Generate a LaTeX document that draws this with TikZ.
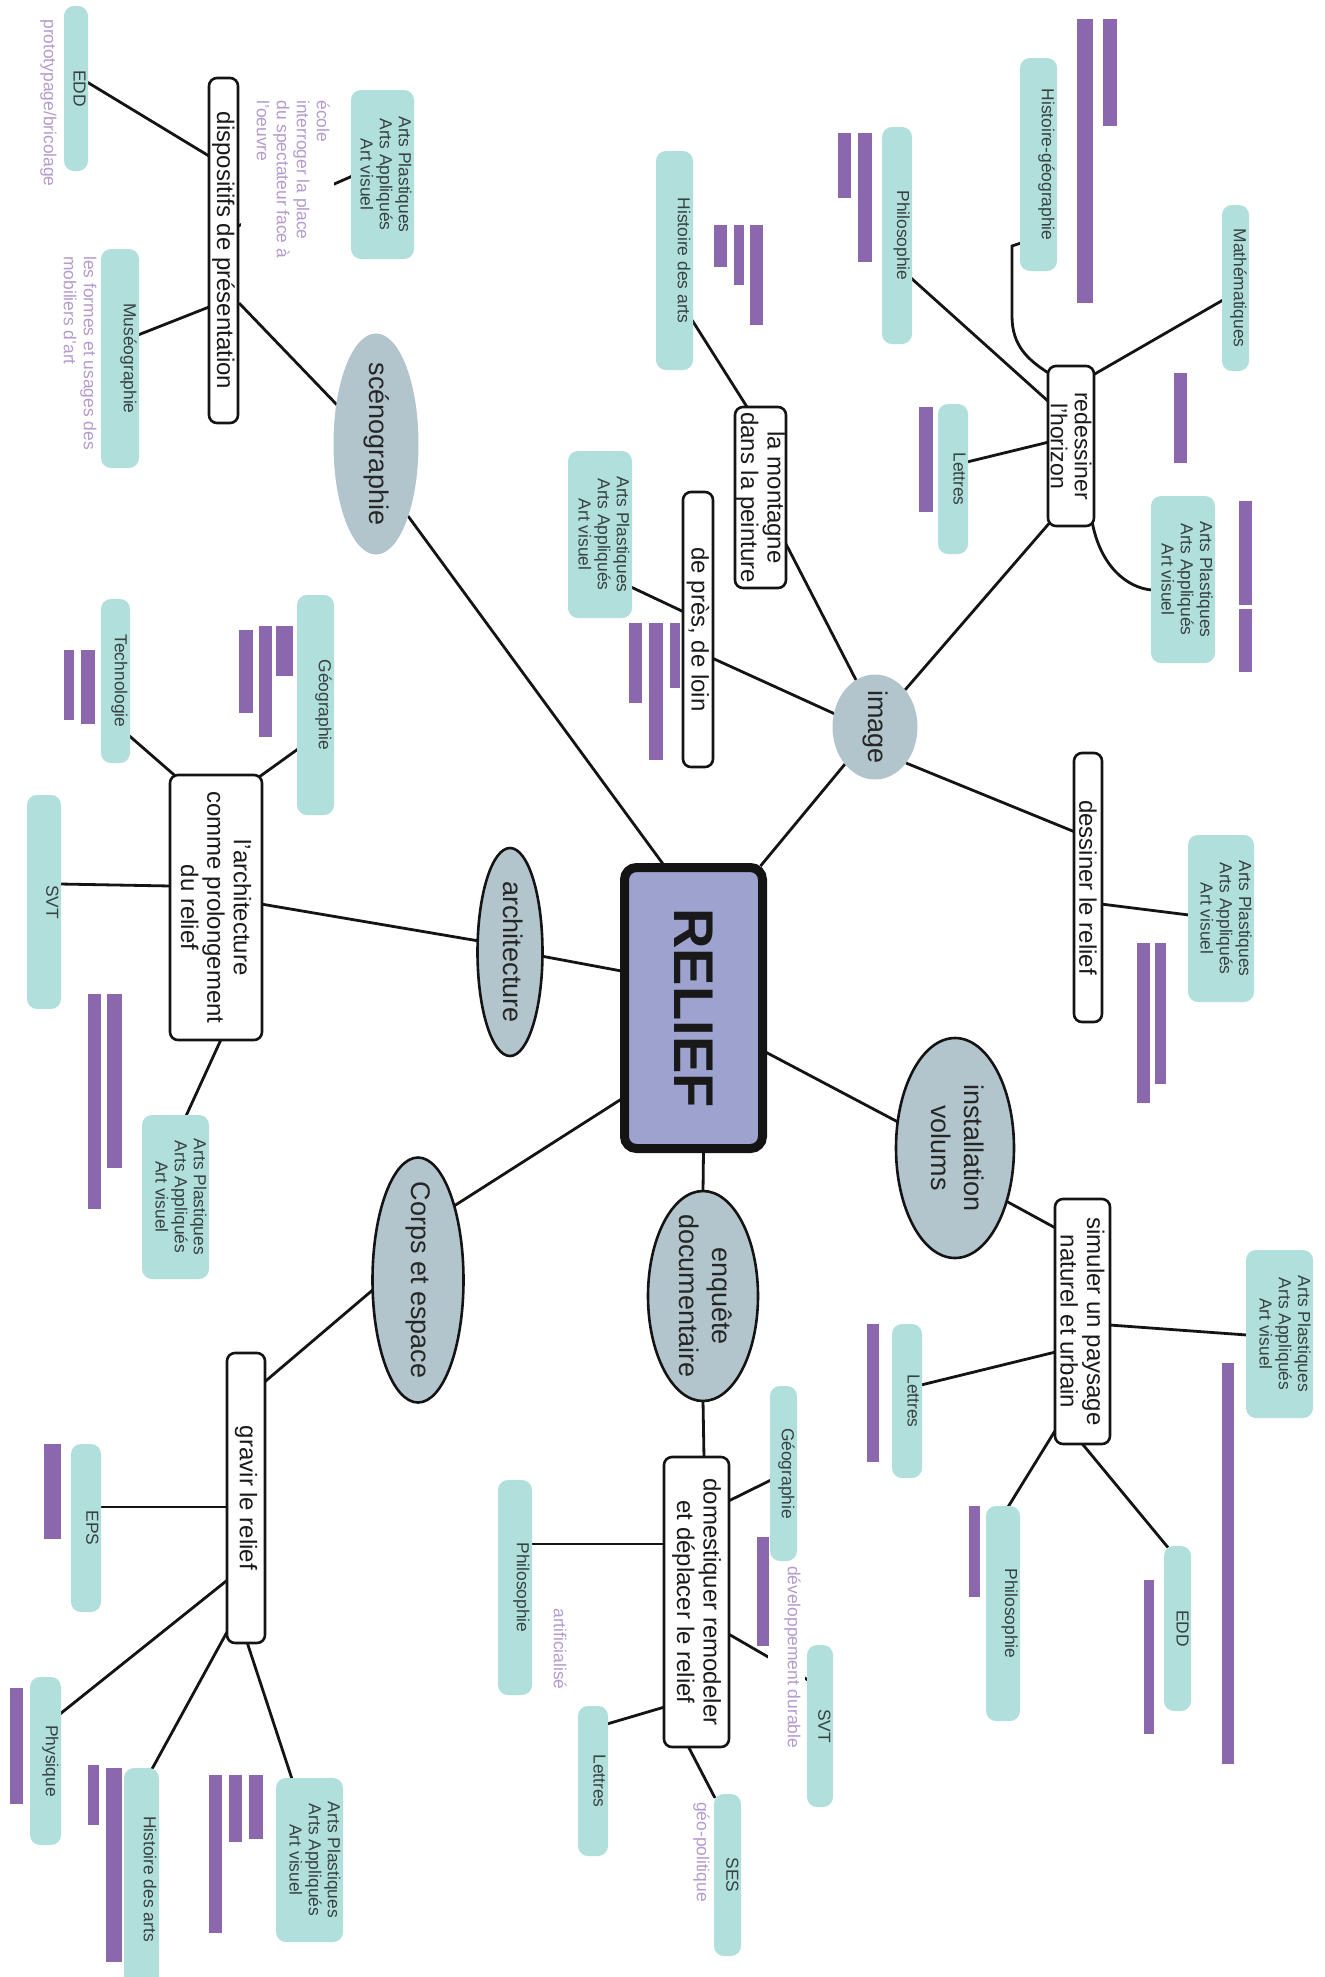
\documentclass[tikz,border=0pt]{standalone}
\usepackage{fontspec}
\setmainfont{Liberation Sans}
\usepackage{graphicx}
\usetikzlibrary{shapes.geometric,calc}
\pgfdeclarelayer{bg}
\pgfsetlayers{bg,main}
\definecolor{teal1}{RGB}{176,223,220}
\definecolor{ellf}{RGB}{179,197,204}
\definecolor{relf}{RGB}{158,162,207}
\definecolor{pdark}{RGB}{139,104,173}
\definecolor{plight}{RGB}{180,155,205}
\definecolor{ttxt}{RGB}{55,65,65}
\definecolor{lnc}{RGB}{20,20,20}
\tikzset{
 conn/.style={draw=lnc, line width=1.4pt},
 tealbox/.style={rectangle, fill=teal1, draw=none, rounded corners=5pt, inner sep=0pt, outer sep=0pt},
 ttext/.style={rotate=-90, inner sep=0pt, text=ttxt, align=center, font=\fontsize{8.7}{9.6}\selectfont},
 ltext/.style={rotate=-90, inner sep=2pt, fill=white, text=plight, align=left, font=\fontsize{8.7}{10}\selectfont},
 wbox/.style={rectangle, rotate=-90, draw=lnc, line width=1.3pt, fill=white, rounded corners=4pt, inner sep=0.5pt, align=center, text=black!90, font=\fontsize{12}{13.2}\selectfont},
 ell/.style={ellipse, rotate=-90, fill=ellf, inner sep=0pt, text=black!85, font=\fontsize{13.5}{16.5}\selectfont},
 ellb/.style={ell, draw=lnc, line width=1.3pt},
 central/.style={rectangle, rotate=-90, fill=relf, draw=lnc, line width=4.5pt, rounded corners=6pt, text=black!90, font=\fontsize{28}{30}\selectfont\bfseries},
}
\newcommand{\tealrect}[5]{\node[tealbox, minimum width={(#4-#2)*0.5pt}, minimum height={(#5-#3)*0.5pt}] (#1) at ({(#2+#4)/2},{(#3+#5)/2}) {};}
\newcommand{\tealtext}[3]{\node[ttext, anchor=north] (#1) at ($(#2.east)+(-2,0)$) {#3};}
\newcommand{\purplebar}[4]{\fill[pdark] (#1,#2) rectangle (#3,#4);}
\newcommand{\conn}[6]{\draw[conn] ($(#1)+(#2,#3)$) -- ($(#4)+(#5,#6)$);}
\newcommand{\elltxt}[1]{\makebox[0pt]{\begin{tabular}{@{}c@{}}#1\end{tabular}}}
\newcommand{\APtext}{Arts Plastiques\\Arts Appliqués\\Art visuel}
\begin{document}
\begin{tikzpicture}[x=0.5pt,y=-0.5pt]
\useasboundingbox (0,0) rectangle (1325,1977);
\begin{pgfonlayer}{bg}
\fill[white] (0,0) rectangle (1325,1977);
\end{pgfonlayer}

% central
\node[central, minimum width=140.5pt, minimum height=69pt] (relief) at (693.5,1008) {RELIEF};

% ellipses
\node[ell, minimum width=110.5pt, minimum height=42.5pt] (sceno) at (376,444) {\elltxt{scénographie}};
\node[ell, minimum width=52.5pt, minimum height=42.5pt] (image) at (875,727) {\elltxt{image}};
\node[ellb, minimum width=104pt, minimum height=32.5pt] (archi) at (510,952) {\elltxt{architecture}};
\node[ellb, minimum width=122.5pt, minimum height=45.5pt] (corps) at (418,1280) {\elltxt{Corps et espace}};
\node[ellb, minimum width=105pt, minimum height=55pt] (enquete) at (703,1296) {\elltxt{enquête\\documentaire}};
\node[ellb, minimum width=110pt, minimum height=59pt] (install) at (955,1148) {\elltxt{installation\\volums}};

% white boxes
\node[wbox, minimum width=172.5pt, minimum height=14.5pt] (disp) at (223.5,250.5) {dispositifs de présentation};
\node[wbox, minimum width=137.5pt, minimum height=15pt] (preslo) at (698,629.5) {de près, de loin};
\node[wbox, minimum width=90.5pt, minimum height=25.5pt] (montagne) at (760.5,497.5) {la montagne\\dans la peinture};
\node[wbox, minimum width=80pt, minimum height=23pt, font=\fontsize{11.5}{12}\selectfont] (horizon) at (1071,446) {redessiner\\l'horizon};
\node[wbox, minimum width=134.5pt, minimum height=14pt] (dessiner) at (1088,887.5) {dessiner le relief};
\node[wbox, minimum width=122.5pt, minimum height=27.5pt] (simuler) at (1082.5,1321.5) {simuler un paysage\\naturel et urbain};
\node[wbox, minimum width=145pt, minimum height=32.5pt] (domest) at (696.5,1602) {domestiquer remodeler\\et déplacer le relief};
\node[wbox, minimum width=132.5pt, minimum height=46pt] (archbox) at (216,907.5) {l'architecture\\comme prolongement\\du relief};
\node[wbox, minimum width=145pt, minimum height=19pt] (gravir) at (246,1498) {gravir le relief};

% light purple texts
\node[ltext, anchor=north] (proto) at (61,103) {prototypage/bricolage};
\node[ltext, anchor=north west, text depth=5.7pt] (ecole) at (334,96) {école\\interroger la place\\du spectateur face à\\l'oeuvre};
\node[ltext, anchor=north west] (formes) at (101,252) {les formes et usages des\\mobiliers d'art};
\node[ltext, anchor=north, text depth=8pt] (devdur) at (805,1657) {développement durable};
\node[ltext, anchor=north] (artif) at (571,1649) {artificialisé};
\node[ltext, anchor=north] (geopol) at (714,1852) {géo-politique};

% teal boxes
\tealrect{edd1}{64}{6}{88}{171}
\tealrect{ap1}{351}{90}{414}{259}
\tealrect{museo}{101}{249}{139}{468}
\tealrect{hist1}{656}{151}{693}{370}
\tealrect{ap2}{568}{451}{632}{618}
\tealrect{philo1}{882}{127}{912}{344}
\tealrect{hg}{1020}{58}{1057}{271}
\tealrect{math}{1222}{205}{1249}{371}
\tealrect{lettres1}{938}{404}{968}{554}
\tealrect{ap3}{1151}{496}{1215}{663}
\tealrect{ap4}{1188}{835}{1254}{1002}
\tealrect{ap5}{1246}{1250}{1313}{1418}
\tealrect{lettres2}{892}{1324}{922}{1478}
\tealrect{philo2}{986}{1506}{1020}{1721}
\tealrect{edd2}{1164}{1546}{1191}{1711}
\tealrect{geo2}{770}{1386}{797}{1561}
\tealrect{svt2}{807}{1645}{833}{1807}
\tealrect{philo3}{498}{1480}{532}{1695}
\tealrect{lettres3}{578}{1706}{608}{1856}
\tealrect{ses}{714}{1794}{741}{1956}
\tealrect{techno}{101}{599}{130}{763}
\tealrect{geo3}{297}{595}{334}{815}
\tealrect{svt3}{27}{795}{61}{1009}
\tealrect{ap6}{142}{1115}{209}{1279}
\tealrect{eps}{71}{1444}{101}{1612}
\tealrect{phys}{30}{1677}{61}{1845}
\tealrect{ha2}{124}{1768}{159}{1990}
\tealrect{ap7}{276}{1778}{343}{1942}

% teal texts
\tealtext{edd1t}{edd1}{EDD}
\tealtext{ap1t}{ap1}{\APtext}
\tealtext{museot}{museo}{Muséographie}
\tealtext{hist1t}{hist1}{Histoire des arts}
\tealtext{ap2t}{ap2}{\APtext}
\tealtext{philo1t}{philo1}{Philosophie}
\tealtext{hgt}{hg}{Histoire-géographie}
\tealtext{matht}{math}{Mathématiques}
\tealtext{lettres1t}{lettres1}{Lettres}
\tealtext{ap3t}{ap3}{\APtext}
\tealtext{ap4t}{ap4}{\APtext}
\tealtext{ap5t}{ap5}{\APtext}
\tealtext{lettres2t}{lettres2}{Lettres}
\tealtext{philo2t}{philo2}{Philosophie}
\tealtext{edd2t}{edd2}{EDD}
\tealtext{geo2t}{geo2}{Géographie}
\tealtext{svt2t}{svt2}{SVT}
\tealtext{philo3t}{philo3}{Philosophie}
\tealtext{lettres3t}{lettres3}{Lettres}
\tealtext{sest}{ses}{SES}
\tealtext{technot}{techno}{Technologie}
\tealtext{geo3t}{geo3}{Géographie}
\tealtext{svt3t}{svt3}{SVT}
\tealtext{ap6t}{ap6}{\APtext}
\tealtext{epst}{eps}{EPS}
\tealtext{physt}{phys}{Physique}
\tealtext{ha2t}{ha2}{Histoire des arts}
\tealtext{ap7t}{ap7}{\APtext}

% dark purple bars
\purplebar{714}{225}{727}{267}
\purplebar{734}{225}{744}{285}
\purplebar{750}{225}{763}{325}
\purplebar{838}{133}{851}{198}
\purplebar{858}{133}{872}{262}
\purplebar{1077}{19}{1093}{303}
\purplebar{1103}{19}{1117}{126}
\purplebar{919}{407}{933}{512}
\purplebar{1174}{373}{1187}{463}
\purplebar{1239}{501}{1252}{605}
\purplebar{1239}{609}{1252}{672}
\purplebar{629}{623}{642}{703}
\purplebar{649}{623}{663}{760}
\purplebar{670}{623}{680}{688}
\purplebar{1137}{943}{1150}{1103}
\purplebar{1155}{943}{1166}{1084}
\purplebar{1222}{1363}{1234}{1764}
\purplebar{867}{1324}{879}{1462}
\purplebar{969}{1506}{980}{1597}
\purplebar{1144}{1580}{1154}{1734}
\purplebar{757}{1537}{769}{1646}
\purplebar{64}{650}{74}{720}
\purplebar{81}{650}{95}{724}
\purplebar{239}{630}{253}{713}
\purplebar{259}{626}{272}{737}
\purplebar{276}{626}{293}{676}
\purplebar{88}{994}{101}{1209}
\purplebar{107}{994}{122}{1168}
\purplebar{44}{1444}{61}{1539}
\purplebar{10}{1688}{23}{1804}
\purplebar{88}{1765}{99}{1825}
\purplebar{106}{1768}{122}{1962}
\purplebar{209}{1775}{222}{1933}
\purplebar{229}{1775}{242}{1842}
\purplebar{249}{1775}{263}{1839}

% connectors
\begin{pgfonlayer}{bg}
\conn{sceno}{-37}{-37}{disp}{15.5}{52.5}
\conn{disp}{-14.5}{-94.5}{edd1}{11}{-6.5}
\conn{disp}{14.5}{-24.5}{ap1}{-30}{1.5}
\conn{disp}{-14.5}{56.5}{museo}{18}{-23.5}
\conn{sceno}{32}{72}{relief}{-29}{-142}
\conn{image}{-30}{37}{relief}{67}{-142}
\conn{image}{-40}{-13}{preslo}{14}{28.5}
\conn{preslo}{-14}{-17.5}{ap2}{31}{52.5}
\conn{image}{-19}{-47}{montagne}{25}{45.5}
\conn{montagne}{-12.5}{-89}{hist1}{17.5}{59.5}
\conn{image}{30}{-37}{horizon}{-19}{74}
\conn{horizon}{-22}{-44}{philo1}{14}{42.5}
\draw[conn] ($(hg)+(-17.5,78.5)$) -- ++(-9,3) -- ++(0,70) .. controls +(0,30) and +(-22,-14) .. ($(horizon)+(-21,-72)$);
\conn{horizon}{22}{-71}{math}{-12.5}{12}
\conn{horizon}{-22}{-4}{lettres1}{14}{-17}
\draw[conn] ($(horizon)+(21,75)$) .. controls +(8,45) and +(-25,-2) .. ($(ap3)+(-31,10.5)$);
\conn{image}{31}{36}{dessiner}{-13}{-55.5}
\conn{dessiner}{13}{16.5}{ap4}{-32}{-3.5}
\conn{relief}{72}{44}{install}{-57}{-26}
\conn{install}{51}{53}{simuler}{-27}{-93.5}
\conn{simuler}{27}{3.5}{ap5}{-32.5}{1}
\conn{simuler}{-27}{30.5}{lettres2}{14}{-16}
\conn{simuler}{-27}{108.5}{philo2}{5}{-106.5}
\conn{simuler}{-0.5}{122}{edd2}{-9.5}{-81}
\conn{relief}{10}{143}{enquete}{0}{-104}
\conn{enquete}{0}{104}{domest}{7.5}{-144}
\conn{domest}{32}{-101}{geo2}{-12.5}{6.5}
\conn{domest}{32}{32}{svt2}{-12}{-46}
\conn{domest}{-32}{-58}{philo3}{16}{-43.5}
\conn{domest}{-32}{105}{lettres3}{14}{-57}
\conn{domest}{-8.5}{144}{ses}{-12.5}{-77}
\conn{relief}{-72}{-37}{archi}{31}{4}
\conn{archi}{-31}{-11}{archbox}{45}{-3.5}
\conn{archbox}{-40}{-131}{techno}{14}{55}
\conn{archbox}{41}{-129}{geo3}{-17.5}{44}
\conn{archbox}{-45}{-21.5}{svt3}{16}{-18}
\conn{archbox}{5}{132}{ap6}{10.5}{-81}
\conn{relief}{-72}{91}{corps}{36}{-74}
\conn{corps}{-43}{8}{gravir}{18.5}{-116}
\conn{gravir}{-18.5}{9}{eps}{14}{-21}
\conn{gravir}{-18.5}{82}{phys}{14.5}{-47}
\conn{gravir}{-19}{134}{ha2}{10.5}{-110}
\conn{gravir}{1}{144}{ap7}{-17.5}{-81}
\end{pgfonlayer}
\end{tikzpicture}
\end{document}
